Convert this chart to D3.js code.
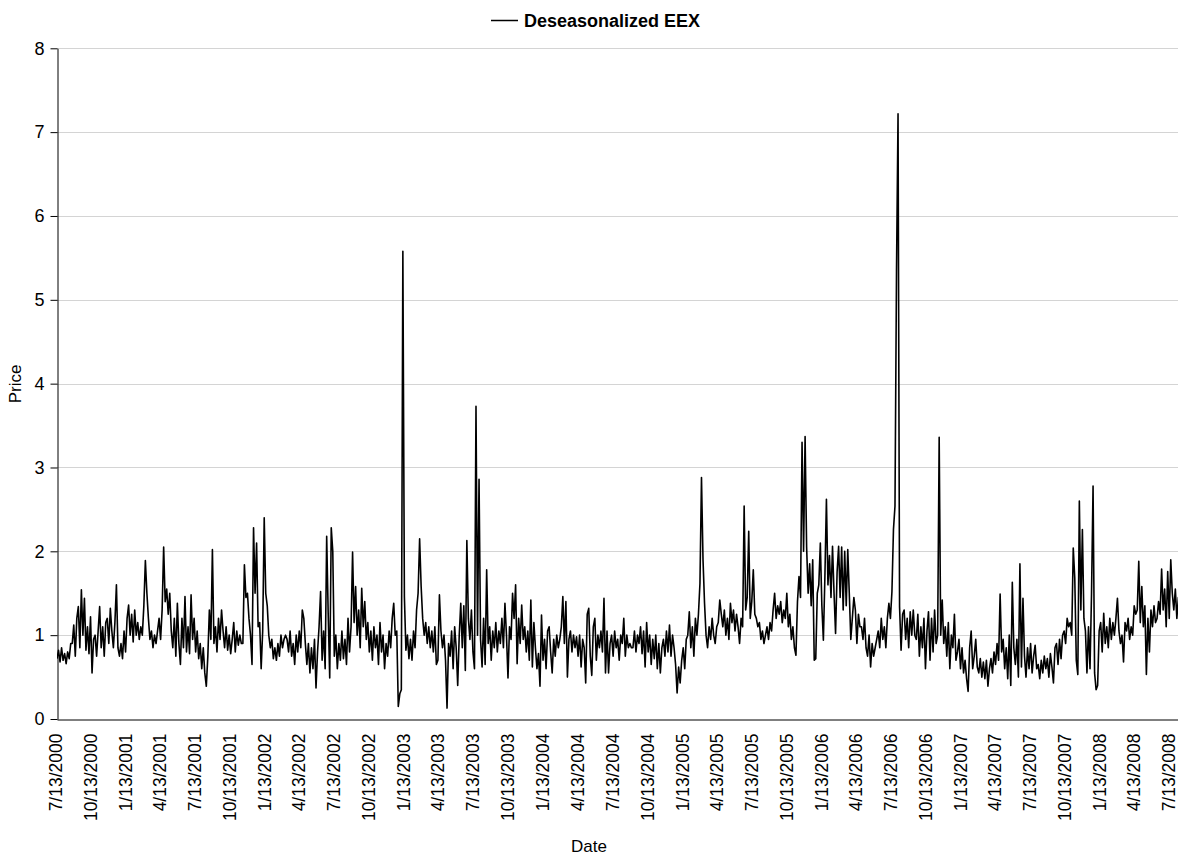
<!DOCTYPE html>
<html>
<head>
<meta charset="utf-8">
<script src="https://cdn.jsdelivr.net/npm/d3@7"></script>
<style>
  body { margin: 0; background: #fff; }
  svg { display: block; }
  text { font-family: Arial, "Liberation Sans", sans-serif; fill: #000; }
</style>
</head>
<body>
<svg id="chart" width="1178" height="859"></svg>
<script>
// Deseasonalized EEX price, one reading every 4 days from 13 July 2000.
const seriesName = "Deseasonalized EEX";
const startDate = "2000-07-13";
const endDate = "2008-08-03";
const stepDays = 4;

const priceValues = [
  // Jul 2000 - Jul 2001
  0.72, 0.82, 0.68, 0.85, 0.70, 0.78, 0.66, 0.80, 0.72, 0.9,
  0.90, 1.12, 0.75, 1.20,
  1.34, 0.85, 1.54, 1.0, 1.44,
  0.82, 1.1, 0.78, 1.22, 0.55,
  0.95, 1.0, 0.75, 1.05, 1.34,
  0.85, 1.1, 0.75, 1.15,
  1.2, 0.9, 1.32, 1.05, 0.85, 1.15, 1.6,
  0.85, 0.75, 0.9, 0.72, 1.05, 0.8,
  1.2, 1.36, 1.0, 1.25, 0.92, 1.3, 1.0, 1.15,
  0.95, 1.1, 1.0, 1.35, 1.89,
  1.5, 1.2, 0.95, 1.05, 0.85, 1.0, 0.9, 1.05,
  1.2, 0.95, 1.3, 2.05,
  1.4, 1.55, 1.25, 1.5,
  // Jul 2001 - Oct 2002
  1.05, 0.85, 1.2, 0.75, 1.38,
  0.9, 0.65, 1.2, 0.85, 1.46, 0.8, 1.1, 0.78, 1.48,
  0.95, 1.2, 0.8, 1.05,
  0.72, 0.9, 0.6, 0.85, 0.55, 0.39, 0.75,
  1.3, 0.95, 2.02,
  0.9, 1.1, 0.8, 1.2, 0.95, 1.3,
  1.05, 0.85, 1.1, 0.82, 1.0, 0.78, 0.95, 1.15, 0.8, 1.05, 0.88, 1.0, 0.9,
  0.9, 1.84, 1.45, 1.5,
  1.2, 1.0, 0.65, 2.28,
  1.5, 2.1, 1.1, 1.15, 0.6,
  1.05, 2.4, 1.5,
  1.35, 1.0, 0.85, 0.95,
  0.72, 0.85, 0.7, 0.9, 0.75, 1.0, 0.85, 0.95, 1.0,
  0.95, 0.8, 1.05, 0.75, 0.9, 0.65, 1.0, 0.8, 1.05, 0.85,
  1.3, 1.2, 0.9,
  0.65, 0.9, 0.55, 0.85, 0.6, 0.95, 0.37,
  0.8, 1.1, 1.52, 0.7,
  1.05, 0.6, 2.18,
  1.25, 0.49, 2.28, 2.0,
  0.75, 1.0, 0.6, 0.9, 0.7, 1.05, 0.72, 0.95, 0.65, 1.2, 0.8, 1.1,
  1.99, 1.15, 1.58, 1.0, 1.3, 0.85, 1.56, 1.1, 1.4,
  0.95, 1.15, 0.8, 1.05, 0.7, 1.1, 0.85, 1.0, 0.65, 1.15,
  0.8, 1.0, 0.6, 0.9, 0.75, 1.05, 0.85, 1.2, 1.38,
  1.0, 1.05, 0.15, 0.3,
  // Jan 2003 - Feb 2004
  0.35, 5.58, 1.46,
  0.82, 1.0, 0.72, 0.95, 0.7, 1.05, 0.85,
  1.3, 1.5, 2.15, 1.58,
  1.2, 1.0, 1.15, 0.9, 1.1, 0.85, 1.05, 0.8, 1.1,
  0.65, 0.7, 1.48,
  1.05, 0.85, 1.0, 0.7, 0.13,
  0.9, 0.75, 1.05, 0.6, 1.1, 0.85, 0.4, 1.0,
  1.38, 0.85, 1.35, 0.58, 2.13,
  1.2, 0.95, 1.3, 0.8, 0.6, 3.73,
  1.0, 2.86, 0.95,
  0.62, 1.2, 0.65, 1.78,
  0.9, 1.1, 0.7, 1.05, 0.85,
  1.15, 0.8, 1.05, 0.9, 1.2, 0.85, 1.38,
  1.0, 0.49, 1.1, 0.95, 1.5, 1.2, 1.6,
  // Feb 2004 - Feb 2005
  0.66, 1.2, 0.9, 1.36, 0.95,
  1.1, 0.8, 1.05, 0.7, 1.42,
  0.62, 1.15, 0.85,
  0.6, 0.78, 0.39, 1.24, 0.7,
  0.95, 0.6, 1.05, 1.1, 0.8,
  0.55, 0.95, 0.75, 1.0, 0.85, 0.95, 1.1,
  1.46, 0.9, 1.4,
  0.5, 0.95, 1.05, 0.8,
  1.0, 0.85, 0.98, 0.75, 1.0, 0.62, 0.95, 0.85, 0.43,
  1.25, 1.32, 0.75, 0.52,
  1.1, 1.2, 0.7, 1.0,
  0.85, 1.05, 0.8, 1.44,
  0.55, 1.05, 0.55, 0.9,
  1.0, 0.75, 1.05, 0.85, 0.95, 0.7, 1.0, 0.9, 1.2, 0.75, 1.0, 0.85, 0.9, 0.85,
  // Feb 2005 - Mar 2006
  0.85, 1.05, 0.8, 1.0, 0.9, 1.1, 0.78, 1.05, 0.62, 1.15,
  0.8, 1.0, 0.65, 0.95, 0.72, 1.0, 0.6, 0.9, 0.55,
  0.85, 0.95, 0.75, 1.05, 0.8, 1.12,
  0.75, 1.0, 0.85, 0.65,
  0.31, 0.62, 0.43,
  0.7, 0.85, 0.6, 0.95,
  1.0, 1.28, 0.85, 1.1, 0.75, 1.2, 1.0, 1.25,
  1.62, 2.88, 1.9, 1.38,
  1.0, 0.85, 1.1, 0.95, 1.2, 1.0, 0.9, 1.1,
  1.15, 1.42, 1.25,
  1.1, 1.3, 1.0, 1.2, 0.95, 1.38, 1.15, 1.3, 1.05, 1.25, 1.1,
  0.9, 1.2, 1.1, 2.54, 1.3,
  1.45, 2.24, 1.2,
  1.4, 1.78, 1.25,
  1.2, 1.1, 1.15,
  0.95, 1.05, 0.9, 1.0,
  1.1, 0.95, 1.15, 1.05,
  1.3, 1.5, 1.2, 1.35, 1.25, 1.4, 1.15, 1.3, 1.2, 1.5, 1.1,
  1.25, 0.95, 1.1, 0.85, 0.76, 1.4, 1.7,
  1.45, 3.3, 2.0, 3.37,
  2.05, 1.5, 1.85, 1.35, 1.9,
  0.7, 0.72, 1.5,
  1.6, 2.1, 1.35, 0.94, 1.7, 2.62,
  1.6, 1.95, 1.45, 2.06, 1.5, 1.02, 1.75, 2.06,
  1.45, 2.05, 1.3, 2.0, 1.35, 2.02, 1.5,
  0.95, 1.2, 1.45, 1.3, 0.9, 1.25, 1.1,
  // Jun 2006 - Jan 2007
  1.1, 0.95, 1.2,
  0.85, 0.75, 1.0, 0.62, 0.9, 0.75, 0.85,
  0.95, 1.05, 0.85, 1.2,
  0.95, 1.1, 0.85, 1.2,
  1.38, 1.2, 1.52,
  2.26, 2.54,
  5.35, 7.22,
  1.34, 0.82,
  1.25, 1.3, 0.95, 1.2, 0.85, 1.28, 1.0, 1.3, 1.0,
  0.95, 1.25, 0.75, 1.1, 0.85, 1.2, 0.6,
  1.05, 1.28, 0.7, 1.2, 0.8, 1.3, 0.9, 1.0,
  3.36,
  1.0, 1.42, 0.9,
  1.1, 0.75, 1.15, 0.6, 1.0, 0.85, 1.25, 0.7,
  0.8, 0.95, 0.6, 0.85, 0.55, 0.7, 0.48, 0.33,
  0.85, 1.05, 0.6, 0.75, 0.95,
  // Jan 2007 - Jan 2008
  0.62, 0.55, 0.72, 0.5, 0.68, 0.48, 0.7, 0.39, 0.6, 0.72,
  0.55, 0.8, 0.65, 0.9, 0.7, 1.49,
  0.8, 0.95, 0.6, 0.85, 0.48, 1.0, 0.4, 1.63,
  0.85, 0.65, 0.95, 0.5, 1.85,
  0.62, 1.44,
  0.75, 0.5, 0.85, 0.6, 0.9, 0.55, 0.75, 0.88, 0.6, 0.65,
  0.48, 0.7, 0.55, 0.75, 0.6, 0.72, 0.5, 0.78, 0.62, 0.43, 0.85,
  0.9, 0.65, 0.95, 0.72, 1.0, 1.05, 0.9, 1.2, 1.1, 1.15,
  1.0, 2.04, 1.68,
  0.7, 0.53, 2.6,
  1.3, 2.26, 1.2,
  1.05, 0.55, 1.1, 0.6, 1.5,
  // Jan 2008 - Aug 2008
  2.78, 0.55, 0.35,
  0.4, 1.05, 1.15, 0.8, 1.26,
  0.9, 1.1, 0.85, 1.2, 0.95, 1.15, 1.0, 1.2, 1.44, 1.05, 0.9,
  1.0, 0.68, 1.15, 1.05,
  1.2, 0.95, 1.1, 1.0, 1.35, 1.25,
  1.3, 1.88, 1.15, 1.58,
  1.1, 1.35, 0.53, 1.2,
  0.8, 1.3, 1.1, 1.35, 1.15,
  1.2, 1.4, 1.25, 1.79, 1.3,
  1.55, 1.1, 1.76, 1.2, 1.9,
  1.5, 1.3, 1.55, 1.2, 1.45, 1.1, 1.3, 1.2
];

const yTicks = [0, 1, 2, 3, 4, 5, 6, 7, 8];

const quarterLabels = [
  "7/13/2000", "10/13/2000", "1/13/2001", "4/13/2001", "7/13/2001", "10/13/2001",
  "1/13/2002", "4/13/2002", "7/13/2002", "10/13/2002", "1/13/2003", "4/13/2003",
  "7/13/2003", "10/13/2003", "1/13/2004", "4/13/2004", "7/13/2004", "10/13/2004",
  "1/13/2005", "4/13/2005", "7/13/2005", "10/13/2005", "1/13/2006", "4/13/2006",
  "7/13/2006", "10/13/2006", "1/13/2007", "4/13/2007", "7/13/2007", "10/13/2007",
  "1/13/2008", "4/13/2008", "7/13/2008"
];

// ---- chart ----
const svg = d3.select("#chart");
const plot = { left: 57, right: 1178, top: 48.3, bottom: 719 };

const parseIso = d3.utcParse("%Y-%m-%d");
const parseLabel = d3.utcParse("%m/%d/%Y");
const t0 = parseIso(startDate);

const series = priceValues.map((v, i) => ({ date: d3.utcDay.offset(t0, i * stepDays), value: v }));
const quarterDates = quarterLabels.map(parseLabel);

const x = d3.scaleUtc().domain([t0, parseIso(endDate)]).range([plot.left, plot.right]);
const y = d3.scaleLinear().domain([0, 8]).range([plot.bottom, plot.top]);

// horizontal gridlines
svg.append("g")
  .selectAll("line")
  .data(yTicks.filter(d => d > 0))
  .join("line")
  .attr("x1", plot.left).attr("x2", plot.right)
  .attr("y1", d => Math.round(y(d)) + 0.5).attr("y2", d => Math.round(y(d)) + 0.5)
  .attr("stroke", "#d4d4d4").attr("stroke-width", 1);

// y axis
const yAxis = svg.append("g")
  .attr("transform", `translate(${plot.left + 0.5},0)`)
  .call(d3.axisLeft(y).tickValues(yTicks).tickSize(7).tickSizeOuter(0).tickPadding(6).tickFormat(d3.format("d")));
yAxis.selectAll("text").attr("font-size", 18).attr("font-family", "Arial, 'Liberation Sans', sans-serif");
yAxis.selectAll("line, path").attr("stroke", "#000");

// x axis with rotated quarter labels
const xAxis = svg.append("g")
  .attr("transform", `translate(0,${plot.bottom + 0.5})`)
  .call(d3.axisBottom(x).tickValues(quarterDates).tickSize(0).tickSizeOuter(0)
    .tickFormat((d, i) => quarterLabels[i]));
xAxis.selectAll("path").attr("stroke", "#000");
xAxis.selectAll("text")
  .attr("font-size", 17.5)
  .attr("font-family", "Arial, 'Liberation Sans', sans-serif")
  .attr("text-anchor", "end")
  .attr("transform", "rotate(-90)")
  .attr("x", -14)
  .attr("y", 0)
  .attr("dy", "0.26em");

// keep the line inside the plotting area
svg.append("clipPath").attr("id", "plot-clip")
  .append("rect")
  .attr("x", plot.left).attr("y", 0)
  .attr("width", plot.right - plot.left).attr("height", plot.bottom);

// price line
const line = d3.line().x(d => x(d.date)).y(d => y(d.value));
svg.append("path")
  .datum(series)
  .attr("clip-path", "url(#plot-clip)")
  .attr("fill", "none")
  .attr("stroke", "#000")
  .attr("stroke-width", 1.6)
  .attr("stroke-linejoin", "round")
  .attr("d", line);

// legend
svg.append("line")
  .attr("x1", 491).attr("x2", 518).attr("y1", 20.5).attr("y2", 20.5)
  .attr("stroke", "#000").attr("stroke-width", 1.5);
svg.append("text")
  .attr("x", 524).attr("y", 27)
  .attr("font-size", 18).attr("font-weight", "bold")
  .text(seriesName);

// axis titles
svg.append("text")
  .attr("x", 589).attr("y", 852)
  .attr("text-anchor", "middle").attr("font-size", 17)
  .text("Date");
svg.append("text")
  .attr("transform", "translate(21,384) rotate(-90)")
  .attr("text-anchor", "middle").attr("font-size", 17)
  .text("Price");
</script>
</body>
</html>
